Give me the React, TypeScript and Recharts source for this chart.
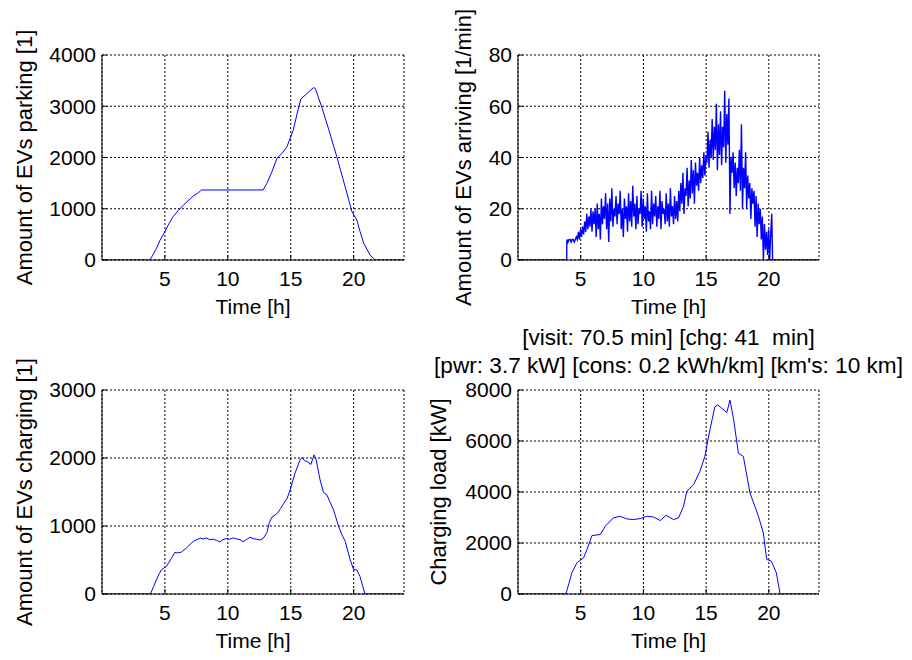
import React from 'react';
import { LineChart, Line, XAxis, YAxis, CartesianGrid, Label } from 'recharts';

const FONT = '"Liberation Sans", Arial, Helvetica, sans-serif';
const BLUE = '#0000ff';
const xTicks = [5, 10, 15, 20];

// EVs parking [1]
const parkingHours = [0, 3.8, 4.0, 4.33, 4.6, 5.0, 5.3, 5.65, 6.05, 6.5, 7.0, 7.25, 7.6, 7.9, 12.8, 13.1, 13.5, 13.9, 14.3, 14.7, 15.2, 15.5, 15.8, 16.3, 16.8, 16.95, 17.5, 18.0, 18.66, 19.3, 19.86, 20.25, 20.5, 20.8, 21.3, 21.7, 24];
const parkingCount = [0, 0, 80, 228, 380, 553, 700, 845, 963, 1080, 1190, 1249, 1300, 1366, 1366, 1496, 1720, 1984, 2080, 2211, 2537, 2850, 3141, 3250, 3363, 3350, 2959, 2560, 2016, 1450, 943, 780, 560, 325, 98, 0, 0];

// EVs arriving [1/min], one value every 5 minutes from 3.9 h
const arrivalStart = 3.9;
const arrivalStep = 1 / 12;
const arrivalRate = [
  8, 7, 8, 8, 7, 8, 8, 7, 8, 9, 8, 11,
  8, 12, 9, 13, 10, 15, 11, 18, 12, 17, 13, 20,
  11, 19, 14, 20, 9, 22, 12, 18, 8, 24, 14, 21,
  16, 26, 12, 22, 7, 24, 15, 28, 13, 20, 17, 25,
  14, 22, 18, 27, 12, 20, 9, 24, 16, 21, 11, 26,
  15, 23, 13, 29, 17, 22, 12, 25, 14, 20, 18, 27,
  13, 24, 16, 21, 11, 26, 15, 19, 12, 27, 14, 22,
  17, 25, 13, 21, 16, 27, 12, 23, 18, 20, 14, 26,
  15, 22, 13, 28, 17, 21, 14, 25, 16, 23, 15, 27,
  19, 30, 22, 34, 18, 28, 25, 36, 21, 31, 24, 39,
  26, 35, 22, 38, 29, 34, 27, 40, 30, 37, 32, 42,
  33, 41, 38, 50, 36, 47, 40, 55, 39, 52, 43, 61,
  35, 53, 41, 58, 37, 52, 44, 66, 38, 57, 45, 63,
  18, 40, 34, 42, 28, 38, 25, 36, 30, 43, 27, 53,
  20, 36, 28, 42, 20, 33, 24, 30, 16, 28, 22, 27,
  13, 25, 9, 22, 14, 20, 8, 17, 0, 14, 4, 11,
  2, 12, 0, 10, 18,
];

// EVs charging [1]
const chargingHours = [
  0, 3.85, 4.1, 4.33, 4.55, 4.73,
  5.12, 5.5, 5.79, 6.0, 6.3,
  6.7, 7.0, 7.25, 7.55, 7.8,
  8.05, 8.3, 8.55, 8.84, 9.1,
  9.37, 9.6, 9.9, 10.15, 10.4,
  10.7, 10.96, 11.2, 11.4, 11.76,
  12.0, 12.3, 12.55, 12.8, 13.1,
  13.3, 13.5, 13.75, 14.0, 14.2,
  14.4, 14.7, 14.95, 15.34, 15.74,
  15.9, 16.1, 16.3, 16.6, 16.75,
  16.85, 17.0, 17.33, 17.6, 17.87,
  18.1, 18.4, 18.8, 19.05, 19.33,
  19.72, 20.0, 20.25, 20.5, 20.9,
  24,
];
const chargingCount = [
  0, 0, 110, 210, 300, 357,
  406, 520, 612, 605, 615,
  675, 730, 773, 800, 822,
  810, 825, 800, 805, 790,
  765, 800, 815, 805, 825,
  810, 800, 770, 790, 835,
  815, 805, 795, 815, 900,
  1050, 1130, 1160, 1200, 1260,
  1320, 1400, 1530, 1777, 1973,
  2005, 1960, 1948, 1905, 1990,
  2046, 1990, 1679, 1493, 1459,
  1360, 1238, 994, 880, 773,
  504, 357, 355, 259, 0,
  0,
];

// Charging load [kW]
const loadHours = [0, 3.82, 4.3, 4.7, 5.23, 5.5, 5.9, 6.56, 6.96, 7.6, 8.15, 8.68, 9.2, 9.74, 10.27, 10.8, 11.34, 11.8, 12.4, 12.8, 13.2, 13.46, 14.0, 14.5, 14.9, 15.3, 15.7, 15.93, 16.25, 16.65, 16.9, 17.2, 17.57, 17.97, 18.5, 19.17, 19.56, 19.83, 20.2, 20.6, 20.9, 24];
const loadKw = [0, 0, 834, 1225, 1420, 1746, 2293, 2332, 2658, 2984, 3049, 2945, 2919, 2958, 3049, 3023, 2880, 3088, 2919, 2984, 3440, 4026, 4287, 4808, 5394, 6436, 7349, 7414, 7283, 7114, 7609, 6827, 5524, 5394, 3961, 3049, 2397, 1355, 1290, 834, 0, 0];

const titleLines = ['[visit: 70.5 min] [chg: 41  min]', "[pwr: 3.7 kW] [cons: 0.2 kWh/km] [km's: 10 km]"];

const zip = (ts: number[], vs: number[]) => ts.map((t, i) => ({ t, v: vs[i] }));

const arrivalData = [
  { t: 0, v: 0 },
  { t: 3.88, v: 0 },
  ...arrivalRate.map((v, i) => ({ t: arrivalStart + i * arrivalStep, v })),
  { t: 20.3, v: 0 },
  { t: 24, v: 0 },
];

type PanelCfg = {
  left: number; top: number; right: number; bottom: number;
  yTicks: number[]; yLabel: string; yLabelDist: number;
  data: { t: number; v: number }[];
  lineWidth: number;
  title?: string[];
};

const panels: PanelCfg[] = [
  { left: 102, top: 55, right: 404, bottom: 260, yTicks: [0, 1000, 2000, 3000, 4000], yLabel: 'Amount of EVs parking [1]', yLabelDist: 78, data: zip(parkingHours, parkingCount), lineWidth: 1 },
  { left: 518, top: 55, right: 819, bottom: 260, yTicks: [0, 20, 40, 60, 80], yLabel: 'Amount of EVs arriving [1/min]', yLabelDist: 55, data: arrivalData, lineWidth: 1.4 },
  { left: 102, top: 390, right: 404, bottom: 594, yTicks: [0, 1000, 2000, 3000], yLabel: 'Amount of EVs charging [1]', yLabelDist: 78, data: zip(chargingHours, chargingCount), lineWidth: 1 },
  { left: 518, top: 390, right: 819, bottom: 594, yTicks: [0, 2000, 4000, 6000, 8000], yLabel: 'Charging load [kW]', yLabelDist: 80, data: zip(loadHours, loadKw), lineWidth: 1, title: titleLines },
];

const txt = { fill: '#000', fontSize: 21, fontFamily: FONT };

function Panel({ p }: { p: PanelCfg }) {
  const yMax = p.yTicks[p.yTicks.length - 1];
  const margin = { left: p.left - 60, top: p.top, right: 912 - p.right, bottom: 660 - p.bottom - 40 };
  const cy = (p.top + p.bottom) / 2;
  const cx = p.left - p.yLabelDist;
  const midX = (p.left + p.right) / 2;
  return (
    <div style={{ position: 'absolute', left: 0, top: 0 }}>
      <LineChart width={912} height={660} data={p.data} margin={margin}>
        <CartesianGrid stroke="#000" strokeDasharray="2 2" />
        <XAxis dataKey="t" type="number" domain={[0, 24]} ticks={xTicks} allowDataOverflow
          tick={txt} tickSize={-5} tickMargin={16} height={40}
          axisLine={{ stroke: '#000' }} tickLine={{ stroke: '#000' }}>
          <Label content={() => (
            <g>
              <text x={midX} y={p.bottom + 46} textAnchor="middle" dominantBaseline="central" {...txt}>Time [h]</text>
              {(p.title || []).map((line, i) => (
                <text key={i} x={midX} y={p.top - 53 + i * 28} textAnchor="middle" dominantBaseline="central" {...txt} fontSize={22.6} style={{ whiteSpace: 'pre' }}>{line}</text>
              ))}
            </g>
          )} />
        </XAxis>
        <XAxis xAxisId="top" orientation="top" type="number" domain={[0, 24]} ticks={xTicks} allowDataOverflow
          tick={false} tickSize={-5} height={0}
          axisLine={{ stroke: '#000' }} tickLine={{ stroke: '#000' }} />
        <YAxis type="number" domain={[0, yMax]} ticks={p.yTicks} allowDataOverflow
          tick={txt} tickSize={-5} tickMargin={11} width={60}
          axisLine={{ stroke: '#000' }} tickLine={{ stroke: '#000' }}>
          <Label content={() => (
            <text x={cx} y={cy} transform={`rotate(-90 ${cx} ${cy})`} textAnchor="middle" dominantBaseline="central" {...txt} fontSize={22}>{p.yLabel}</text>
          )} />
        </YAxis>
        <YAxis yAxisId="right" orientation="right" type="number" domain={[0, yMax]} ticks={p.yTicks} allowDataOverflow
          tick={false} tickSize={-5} width={0}
          axisLine={{ stroke: '#000' }} tickLine={{ stroke: '#000' }} />
        <Line dataKey="v" type="linear" stroke={BLUE} strokeWidth={p.lineWidth} dot={false} isAnimationActive={false} />
      </LineChart>
    </div>
  );
}

export default function App() {
  return (
    <div style={{ position: 'absolute', left: 0, top: 0, width: 912, height: 660, background: '#fff' }}>
      {panels.map((p, i) => <Panel key={i} p={p} />)}
    </div>
  );
}
